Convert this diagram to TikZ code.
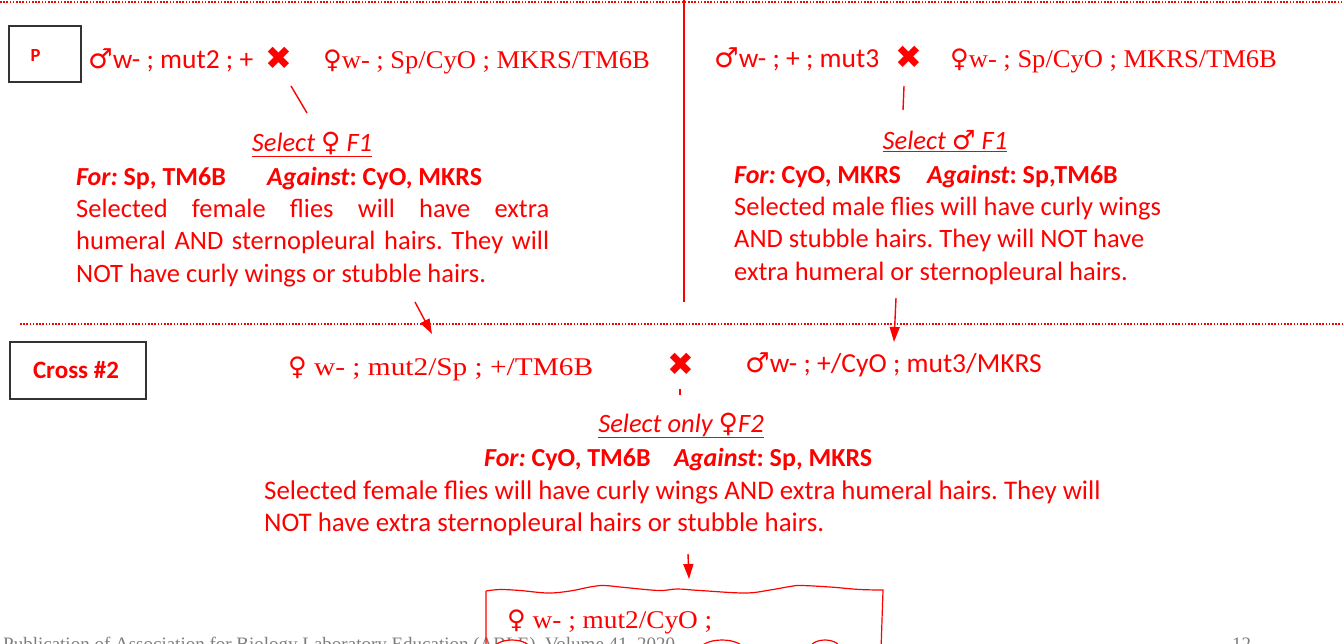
\documentclass[tikz,border=0pt]{standalone}
\usepackage{fontspec}
\setmainfont{Carlito}
\newfontfamily\genf[FakeStretch=1.07]{Liberation Serif}
\newfontfamily\genfnarrow[FakeStretch=1.04]{Liberation Serif}
\newfontfamily\genfwide[FakeStretch=1.15]{Liberation Serif}
\newfontfamily\footf{Liberation Serif}
\newfontfamily\symf{DejaVu Sans}
\usetikzlibrary{arrows.meta}
\definecolor{flyred}{RGB}{255,0,0}
\definecolor{footgray}{RGB}{125,125,125}
\newcommand\fem{{\symf\char"2640}}
\newcommand\mal{{\symf\char"2642}}
\newcommand\crossmark{{\symf\char"2716}}
\newcommand\bodyfont{\fontsize{26.5}{32.5}\selectfont}
\frenchspacing

\begin{document}
\begin{tikzpicture}[x=1pt,y=-1pt,
  txt/.style={text=flyred, inner sep=0pt, font=\bodyfont},
  gsans/.style={txt, anchor=base west, font=\fontsize{27.5}{33}\selectfont},
  gserif/.style={txt, anchor=base west, font=\genf\fontsize{25.5}{33}\selectfont},
  xmark/.style={text=flyred, inner sep=0pt, font=\symf\fontsize{32}{32}\selectfont},
  head/.style={txt, anchor=base, font=\bodyfont\itshape},
  crit/.style={txt, anchor=base west, font=\fontsize{26}{32.5}\selectfont\bfseries},
  % multi-line blocks are placed by the baseline of their last line
  para/.style={txt, anchor=base west, align=left},
  tagbox/.style={draw=black!80, line width=1.3pt, inner sep=0pt},
  tagtext/.style={text=flyred, inner sep=0pt, font=\bfseries},
  link/.style={draw=flyred, line width=1.4pt},
  arrowlink/.style={link, -{Triangle[length=15pt,width=10pt]}},
  dotrule/.style={draw=flyred, line width=2pt, dash pattern=on 1.6pt off 1.6pt},
  footer/.style={text=footgray, inner sep=0pt, anchor=base west, font=\footf\fontsize{19}{19}\selectfont},
]
\useasboundingbox (0,0) rectangle (1343,643);

% ---- rules ----
\coordinate (topL) at (0,2);
\coordinate (topR) at (1343,2);
\coordinate (midL) at (20,324);
\coordinate (midR) at (1343,324);
\coordinate (divT) at (684,0);
\coordinate (divB) at (684,302);
\draw[dotrule] (topL) -- (topR);
\draw[dotrule] (midL) -- (midR);
\draw[link] (divT) -- (divB);

% ---- generation P, left cross ----
\node[tagbox, minimum width=72pt, minimum height=56pt] (Pbox) at (45,54) {};
\node[tagtext, font=\bfseries\fontsize{18.5}{20}\selectfont] (Ptext) at (35.5,55) {P};

\node[gsans] (m1) at (88,68) {\mal w- ; mut2 ; +};
\node[xmark] (x1) at (279,58) {\crossmark};
\node[gserif, font=\genfnarrow\fontsize{25.5}{33}\selectfont] (f1) at (323,68) {\fem w- ; Sp/CyO ; MKRS/TM6B};

\coordinate (l1a) at (291,86);
\coordinate (l1b) at (307,113);
\draw[link] (l1a) -- (l1b);

\node[head] (s1) at (312,151) {\underline{Select \fem\ F1}};
\node[crit] (for1) at (76,185) {\textit{For:} Sp, TM6B};
\node[crit] (ag1) at (267,185) {\textit{Against}: CyO, MKRS};
\node[para] (p1) at (76,282) {\makebox[473pt][s]{Selected female flies will have extra}\\
  \makebox[473pt][s]{humeral AND sternopleural hairs. They will}\\
  NOT have curly wings or stubble hairs.};

\coordinate (a1a) at (415,302);
\coordinate (a1b) at (432,334);
\draw[arrowlink] (a1a) -- (a1b);

% ---- generation P, right cross ----
\node[gsans] (m2) at (714,67) {\mal w- ; + ; mut3};
\node[xmark] (x2) at (909,57) {\crossmark};
\node[gserif, font=\genfnarrow\fontsize{25.5}{33}\selectfont] (f2) at (950,67) {\fem w- ; Sp/CyO ; MKRS/TM6B};

\coordinate (l2a) at (904,86);
\coordinate (l2b) at (903,110);
\draw[link] (l2a) -- (l2b);

\node[head] (s2) at (945,149) {\underline{Select \mal\ F1}};
\node[crit] (for2) at (734,183) {\textit{For:} CyO, MKRS};
\node[crit] (ag2) at (927,183) {\textit{Against}: Sp,TM6B};
\node[para] (p2) at (734,280) {Selected male flies will have curly wings\\
  AND stubble hairs. They will NOT have\\
  extra humeral or sternopleural hairs.};

\coordinate (a2a) at (896,298);
\coordinate (a2b) at (894,342);
\draw[arrowlink] (a2a) -- (a2b);

% ---- cross #2 ----
\node[tagbox, minimum width=136pt, minimum height=57pt] (Cbox) at (78,370.5) {};
\node[tagtext, font=\bfseries\fontsize{25}{27}\selectfont] (Ctext) at (76,370) {Cross \#2};

\node[gserif, font=\genfwide\fontsize{25.5}{33}\selectfont] (f3) at (288,375) {\fem\ w- ; mut2/Sp ; +/TM6B};
\node[xmark] (x3) at (681,364) {\crossmark};
\node[gsans] (m3) at (745,372) {\mal w- ; +/CyO ; mut3/MKRS};

\coordinate (t3a) at (680,389);
\coordinate (t3b) at (680,395);
\draw[draw=flyred, line width=1.2pt] (t3a) -- (t3b);

\node[head] (s3) at (681,432) {\underline{Select only \fem F2}};
\node[crit] (for3) at (484,466) {\textit{For:} CyO, TM6B};
\node[crit] (ag3) at (674,466) {\textit{Against}: Sp, MKRS};
\node[para, font=\fontsize{26.9}{32}\selectfont] (p3) at (264,531) {Selected female flies will have curly wings AND extra humeral hairs. They will\\
  NOT have extra sternopleural hairs or stubble hairs.};

\coordinate (a3a) at (688,554);
\coordinate (a3b) at (689,579);
\draw[arrowlink] (a3a) -- (a3b);

% ---- footer line of the page ----
\node[footer] (foot) at (3,650) {Publication of Association for Biology Laboratory Education (ABLE), Volume 41, 2020};
\node[footer] (pnum) at (1232,650) {12};

% ---- result card with wavy top ----
\draw[draw=flyred, line width=1.2pt]
  (486,650) -- (486,591)
  plot[smooth, tension=0.6] coordinates {(486,591) (500,589.5) (520,590.5) (548,593) (570,591) (590,587) (604,585.5) (625,587.5) (659,590.5) (677,589) (700,590.5) (745,593) (770,590) (790,586.5) (801,585.5) (830,587) (860,589.5) (883,590)}
  -- (881,650);
\node[gserif] (g4) at (507,628) {\fem\ w- ; mut2/CyO ;};

\foreach \cx/\rx in {512/19, 722/22, 825/16}{
  \draw[draw=flyred, line width=1.2pt, fill=white] (\cx,650) ellipse ({\rx} and 10);
}
\end{tikzpicture}
\end{document}
